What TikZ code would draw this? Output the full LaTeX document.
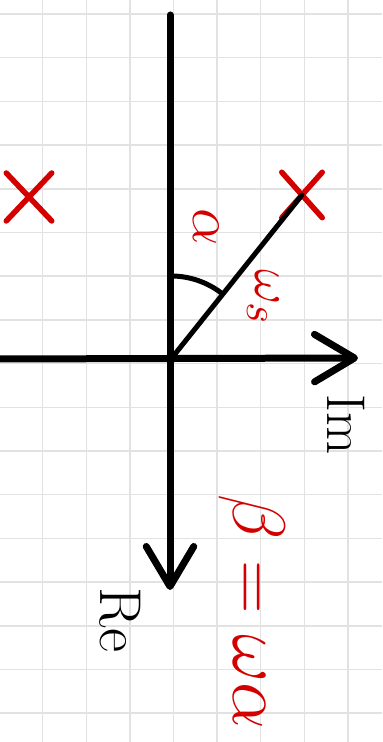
\documentclass[tikz,border=0pt]{standalone}
\usetikzlibrary{arrows.meta,shapes.misc}
\definecolor{penred}{RGB}{212,0,0}
\definecolor{gridgray}{RGB}{226,226,226}

\begin{document}
\begin{tikzpicture}[
    x=0.02cm, y=0.02cm,
    gridline/.style={draw=gridgray, line width=0.03cm},
    axis/.style={line width=0.14cm, line cap=round,
                 -{Straight Barb[length=0.8cm, width=0.95cm, round]}},
    ray/.style={line width=0.1cm, line cap=round},
    pole/.style={cross out, draw=penred, line width=0.11cm, line cap=round,
                 minimum width=0.7cm, minimum height=0.8cm, inner sep=0pt},
    lbl/.style={rotate=-90, font=\Huge, inner sep=0pt},
    redlbl/.style={lbl, text=penred}
]
\fill[white] (0,0) rectangle (382,742);
\useasboundingbox (0,0) rectangle (382,742);
\foreach \gx in {0,...,8}
    \draw[gridline] ({-0.9+43.6*\gx},0) -- ++(0,742);
\foreach \gy in {0,...,16}
    \draw[gridline] (0,{728-43.7*\gy}) -- ++(382,0);

\coordinate (O) at (171,383);
\coordinate (retop) at (170,727);
\coordinate (retip) at (170,152);
\coordinate (imleft) at (0,383);
\coordinate (imtip) at (358,384);
\node[pole] (p1) at (302,547) {};
\node[pole, minimum width=0.8cm, minimum height=0.85cm] (p2) at (29,545) {};

\draw[axis] (retop) -- (retip);
\draw[axis] (imleft) -- (imtip);
\draw[ray] (O) -- (p1.center);
\draw[ray] (O) ++(0,83) arc[start angle=90, end angle=53, radius=83];

\node[redlbl, scale=1.35] (alpha) at (206,515) {$\alpha$};
\node[redlbl, scale=1.25] (omega) at (263,445) {$\omega_s$};
\node[lbl, scale=1.25] (im) at (346,317) {Im};
\node[lbl, scale=1.35] (re) at (120,122) {Re};
\node[redlbl, scale=1.7] (rule) at (252,130) {$\beta=\omega\alpha$};
\end{tikzpicture}
\end{document}
